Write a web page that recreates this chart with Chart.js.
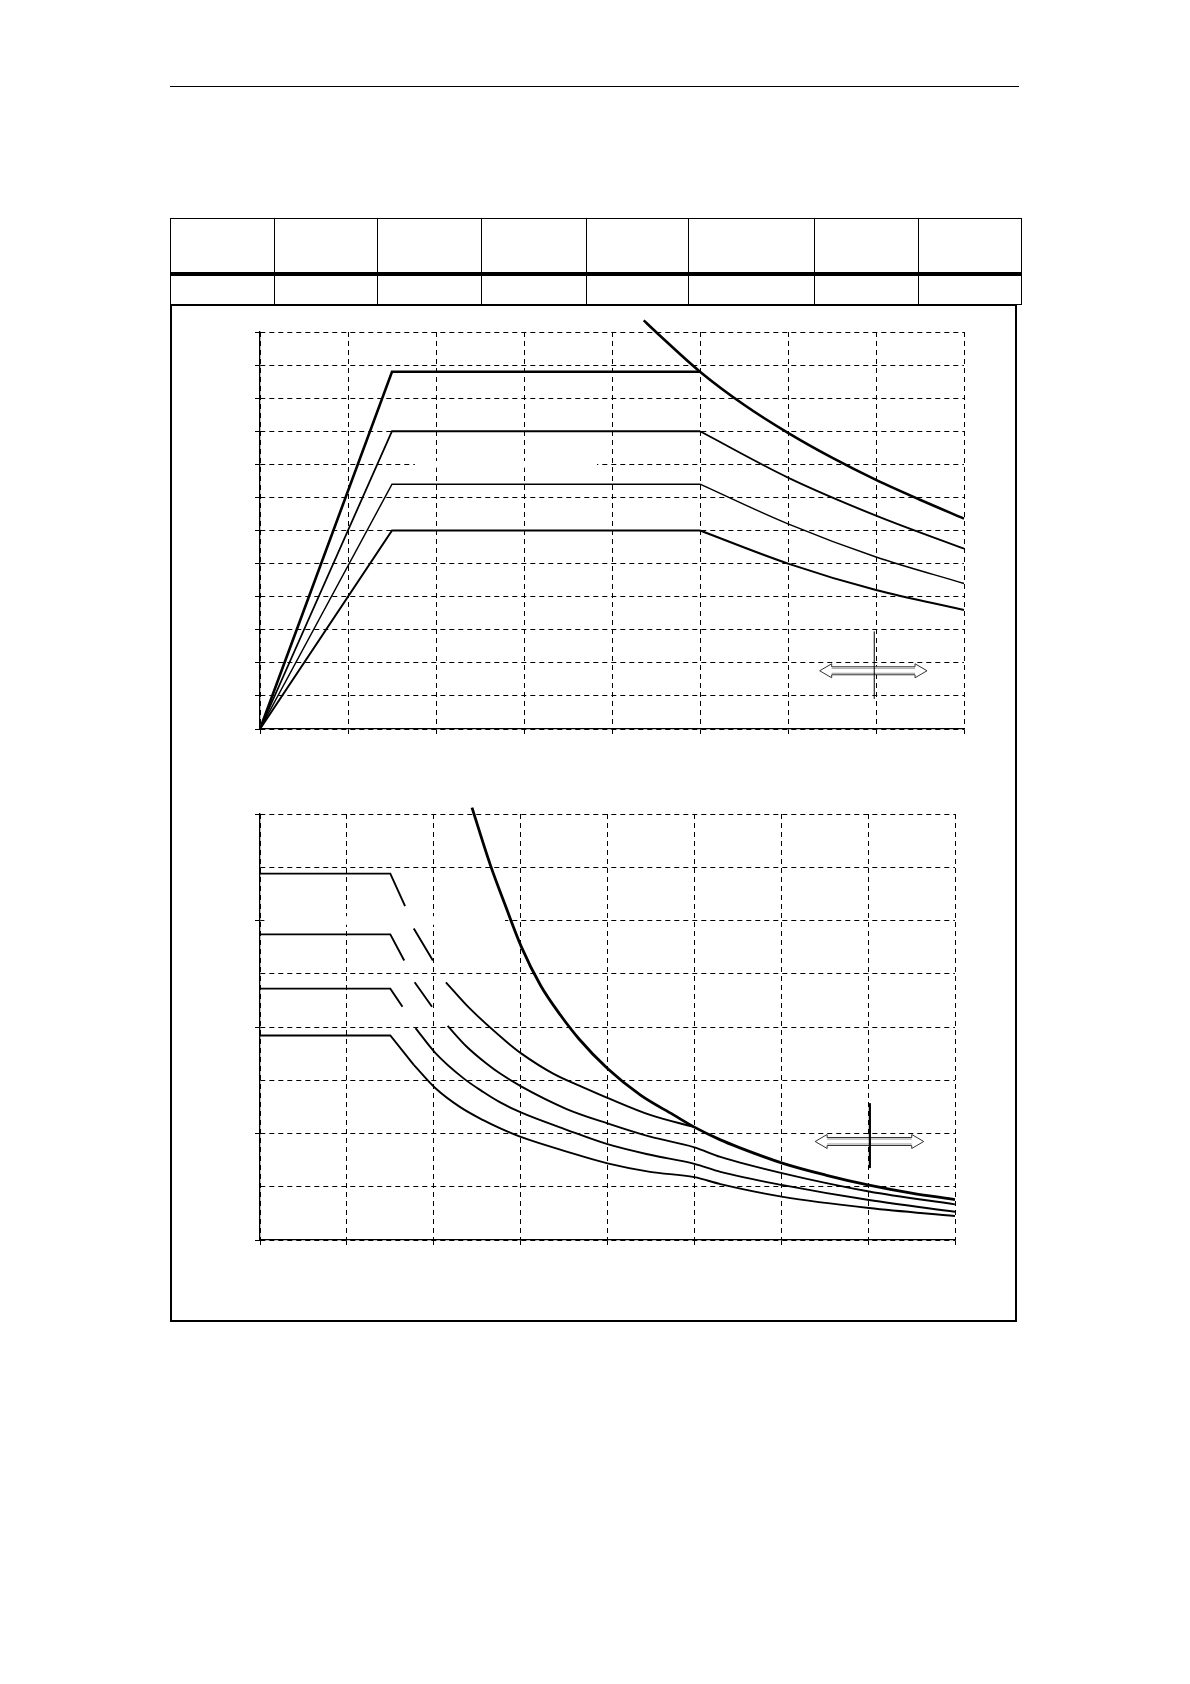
<!DOCTYPE html>
<html lang="de">
<head>
<meta charset="utf-8">
<title>Kennlinien</title>
<script src="https://cdn.jsdelivr.net/npm/chart.js@4.4.1/dist/chart.umd.min.js"></script>
<style>
  html, body { margin: 0; padding: 0; background: #fff; }
  body { position: relative; width: 1190px; height: 1684px; overflow: hidden; }
  .rule { position: absolute; left: 170px; top: 86px; width: 849px; border-top: 1.5px solid #000; }
  table.head { position: absolute; left: 170px; top: 218px; width: 851px; border-collapse: collapse; table-layout: fixed; }
  table.head td { border: 1px solid #000; padding: 0; }
  table.head tr.top td { height: 53px; border-bottom: 4px solid #000; }
  table.head tr.low td { height: 28px; }
  .frame { position: absolute; left: 170px; top: 304px; width: 847px; height: 1018px; box-sizing: border-box; border: 2px solid #000; }
  canvas { position: absolute; }
  #topChart { left: 180px; top: 310px; }
  #bottomChart { left: 180px; top: 790px; }
</style>
</head>
<body>
<div class="rule"></div>
<table class="head">
  <colgroup>
    <col style="width:104px"><col style="width:103px"><col style="width:104px"><col style="width:105px">
    <col style="width:102px"><col style="width:126px"><col style="width:104px"><col style="width:103px">
  </colgroup>
  <tr class="top"><td></td><td></td><td></td><td></td><td></td><td></td><td></td><td></td></tr>
  <tr class="low"><td></td><td></td><td></td><td></td><td></td><td></td><td></td><td></td></tr>
</table>
<div class="frame"></div>
<canvas id="topChart" width="800" height="440"></canvas>
<canvas id="bottomChart" width="800" height="470"></canvas>

<script>
// upper diagram (grid units, 8 x 12)
const topKneeX = [0, 1.5, 5];
const topCurve1 = [0, 10.8, 10.8];
const topX = [0, 1.5, 5, 6, 7, 8];
const topCurve2 = [0, 9.0, 9.0, 7.6, 6.45, 5.45];
const topCurve3 = [0, 7.4, 7.4, 6.2, 5.2, 4.4];
const topCurve4 = [0, 6.0, 6.0, 5.0, 4.2, 3.6];
const topLimitX = [4.36, 4.5, 5, 5.5, 6, 6.5, 7, 7.5, 8];
const topLimit = [12.35, 12.0, 10.8, 9.8, 8.95, 8.2, 7.53, 6.93, 6.36];

// lower diagram (grid units, 8 x 8), null = gap in the curve
const botLimitX = [2.44, 2.65, 2.82, 3.01, 3.23, 3.46, 3.67, 4.0, 4.38, 4.76, 5.0, 5.3, 5.51, 6.02, 6.51, 7.01, 7.5, 8.0];
const botLimit = [8.12, 7.05, 6.30, 5.50, 4.78, 4.22, 3.78, 3.22, 2.72, 2.35, 2.12, 1.88, 1.74, 1.44, 1.22, 1.03, 0.88, 0.76];
const botAX = [0, 1.5, 1.67, 1.72, 1.77, 1.99, 2.06, 2.14, 2.42, 2.84, 3.01, 3.38, 3.76, 4.0, 4.49, 5.0];
const botA = [6.88, 6.88, 6.27, null, 5.85, 5.25, null, 4.84, 4.34, 3.72, 3.50, 3.12, 2.84, 2.67, 2.35, 2.12];
const botBX = [0, 1.5, 1.66, 1.72, 1.78, 1.98, 2.07, 2.16, 2.38, 2.61, 2.76, 3.01, 3.53, 4.0, 4.49, 5.0, 5.3, 6.02, 7.01, 8.0];
const botB = [5.74, 5.74, 5.25, null, 4.84, 4.38, null, 4.02, 3.63, 3.31, 3.13, 2.88, 2.46, 2.19, 1.94, 1.74, 1.56, 1.25, 0.91, 0.67];
const botCX = [0, 1.5, 1.64, 1.71, 1.79, 2.02, 2.34, 2.57, 2.76, 3.01, 3.53, 4.0, 4.49, 5.0, 5.3, 6.02, 7.01, 8.0];
const botC = [4.72, 4.72, 4.38, null, 3.98, 3.51, 3.04, 2.78, 2.59, 2.39, 2.07, 1.80, 1.60, 1.43, 1.28, 1.03, 0.75, 0.53];
const botDX = [0, 1.5, 1.77, 2.02, 2.30, 2.57, 2.76, 3.01, 3.53, 4.0, 4.49, 5.0, 5.3, 6.02, 7.01, 8.0];
const botD = [3.84, 3.84, 3.29, 2.85, 2.50, 2.25, 2.10, 1.93, 1.66, 1.44, 1.28, 1.18, 1.05, 0.81, 0.60, 0.45];

// double arrow + marker line, in grid units: [arrow x from, arrow x to, arrow y, line x, line y from, line y to]
const topMarker = [6.36, 7.58, 1.76, 6.98, 0.91, 2.95];
const botMarker = [6.39, 7.64, 1.85, 7.02, 1.35, 2.57];
// white label backgrounds that hide part of a grid line: [x from, x to, y from, y to]
const topMasks = [[1.76, 3.83, 7.9, 8.1]];
const botMasks = [[0.05, 2.82, 5.92, 6.08]];

function pts(xs, ys) {
  return xs.map((x, i) => ({ x: x, y: ys[i] }));
}

function curve(data, width, smooth) {
  return {
    data: data,
    borderColor: "#000",
    borderWidth: width,
    pointRadius: 0,
    fill: false,
    clip: false,
    tension: 0,
    cubicInterpolationMode: smooth ? "monotone" : "default",
    spanGaps: false
  };
}

// straight rise/flat part up to index k, smooth fall-off from k on
function kneeCurve(xs, ys, width, k) {
  const all = pts(xs, ys);
  return [curve(all.slice(0, k + 1), width, false), curve(all.slice(k), width, true)];
}

function axis(max, tickColor) {
  return {
    type: "linear",
    min: 0,
    max: max,
    ticks: { display: false, stepSize: 1, maxTicksLimit: 20 },
    grid: { color: "#000", lineWidth: 1, tickLength: 5, tickColor: tickColor || "#000", tickWidth: 1, tickBorderDash: [] },
    border: { display: true, color: "#000", width: 1.3, dash: [5, 4] }
  };
}

// draws the masks under the curves and the arrow symbol on top
const markerPlugin = {
  id: "marker",
  beforeDatasetsDraw(chart, args, opts) {
    const { ctx, scales: { x, y } } = chart;
    ctx.save();
    ctx.fillStyle = "#fff";
    (opts.masks || []).forEach(m => {
      const l = x.getPixelForValue(m[0]), r = x.getPixelForValue(m[1]);
      const t = y.getPixelForValue(m[3]), b = y.getPixelForValue(m[2]);
      ctx.fillRect(l, t, r - l, b - t);
    });
    ctx.restore();
  },
  afterDatasetsDraw(chart, args, opts) {
    const m = opts.arrow;
    if (!m) return;
    const { ctx, scales: { x, y } } = chart;
    const xl = x.getPixelForValue(m[0]), xr = x.getPixelForValue(m[1]), yc = y.getPixelForValue(m[2]);
    const hl = 12, hh = 7, sh = 4;
    ctx.save();
    ctx.beginPath();
    ctx.moveTo(xl, yc);
    ctx.lineTo(xl + hl, yc - hh);
    ctx.lineTo(xl + hl, yc - sh);
    ctx.lineTo(xr - hl, yc - sh);
    ctx.lineTo(xr - hl, yc - hh);
    ctx.lineTo(xr, yc);
    ctx.lineTo(xr - hl, yc + hh);
    ctx.lineTo(xr - hl, yc + sh);
    ctx.lineTo(xl + hl, yc + sh);
    ctx.lineTo(xl + hl, yc + hh);
    ctx.closePath();
    ctx.fillStyle = "#fff";
    ctx.fill();
    ctx.lineWidth = 1;
    ctx.strokeStyle = "#333";
    ctx.stroke();
    // grey inner edge of the shaft
    ctx.strokeStyle = "#999";
    ctx.beginPath();
    ctx.moveTo(xl + hl, yc - sh + 1.5);
    ctx.lineTo(xr - hl, yc - sh + 1.5);
    ctx.moveTo(xl + hl, yc + sh - 1.5);
    ctx.lineTo(xr - hl, yc + sh - 1.5);
    ctx.stroke();
    // marker line
    const lx = x.getPixelForValue(m[3]);
    ctx.strokeStyle = "#000";
    ctx.lineWidth = opts.lineWidth || 1;
    ctx.beginPath();
    ctx.moveTo(lx, y.getPixelForValue(m[4]));
    ctx.lineTo(lx, y.getPixelForValue(m[5]));
    ctx.stroke();
    ctx.restore();
  }
};

function makeChart(id, datasets, xMax, yMax, yTickColor, padding, marker, masks, markerWidth) {
  return new Chart(document.getElementById(id), {
    type: "line",
    data: { datasets: datasets },
    options: {
      responsive: false,
      animation: false,
      events: [],
      layout: { padding: padding },
      scales: {
        x: axis(xMax),
        y: axis(yMax, yTickColor)
      },
      plugins: {
        legend: { display: false },
        tooltip: { enabled: false },
        marker: { arrow: marker, masks: masks, lineWidth: markerWidth }
      }
    },
    plugins: [markerPlugin]
  });
}

window.addEventListener("DOMContentLoaded", () => {
  makeChart("topChart", [
    curve(pts(topLimitX, topLimit), 2.6, true),
    curve(pts(topKneeX, topCurve1), 2.6, false),
    ...kneeCurve(topX, topCurve2, 1.8, 2),
    ...kneeCurve(topX, topCurve3, 1.5, 2),
    ...kneeCurve(topX, topCurve4, 2.0, 2)
  ], 8, 12, null, { left: 75, top: 22, right: 16, bottom: 16 }, topMarker, topMasks, 1);

  makeChart("bottomChart", [
    curve(pts(botLimitX, botLimit), 2.8, true),
    ...kneeCurve(botAX, botA, 1.9, 2),
    ...kneeCurve(botBX, botB, 1.9, 2),
    ...kneeCurve(botCX, botC, 1.9, 2),
    ...kneeCurve(botDX, botD, 1.9, 2)
  ], 8, 8, ctx => (ctx.tick && ctx.tick.value % 2 === 0) ? "#000" : "rgba(0,0,0,0)",
    { left: 75, top: 24, right: 25, bottom: 15 }, botMarker, botMasks, 2.2);
});
</script>
</body>
</html>
